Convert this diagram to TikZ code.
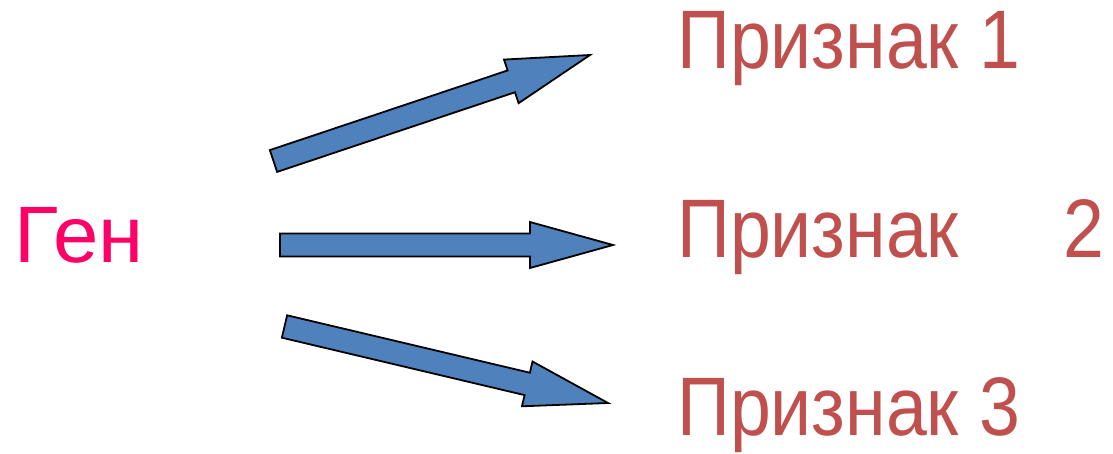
\documentclass[tikz,border=0pt]{standalone}
\usepackage{fontspec}
\setmainfont{Liberation Sans}
\usetikzlibrary{calc}
\definecolor{genred}{HTML}{FF0066}
\definecolor{trait}{HTML}{C0504D}
\definecolor{arrblue}{HTML}{4F81BD}
\tikzset{
  barrow/.style={fill=arrblue, draw=black, line width=1.8pt, line join=miter},
  lbl/.style={inner sep=0pt, anchor=base west, font=\fontsize{80}{96}\selectfont},
  tlbl/.style={inner sep=0pt, anchor=base west, font=\fontsize{83}{100}\selectfont, text=trait},
}
\newcommand{\blockarr}[3]{%
  \coordinate (#3hb) at ($(#2)!83pt!(#1)$);
  \draw[barrow] ($(#1)!11.5pt!90:(#2)$) -- ($(#3hb)!11.5pt!90:(#2)$) -- ($(#3hb)!23pt!90:(#2)$) -- (#2)
    -- ($(#3hb)!23pt!-90:(#2)$) -- ($(#3hb)!11.5pt!-90:(#2)$) -- ($(#1)!11.5pt!-90:(#2)$) -- cycle;}
\newcommand{\trt}[1]{\scalebox{0.885}[1]{#1}}
\begin{document}
\begin{tikzpicture}[x=1pt,y=-1pt]
\useasboundingbox (0,0) rectangle (1113,453);
\node[lbl, text=genred] (gen) at (14,262) {\scalebox{1.02}[1]{Ген}};
\node[tlbl] (p1) at (677,68) {\trt{Признак 1}};
\node[tlbl] (p2) at (677,257) {\trt{Признак\hspace{118pt}2}};
\node[tlbl] (p3) at (677,435.5) {\trt{Признак 3}};
\coordinate (t1) at (273.5,161);
\coordinate (h1) at (590,55);
\coordinate (t2) at (280,245);
\coordinate (h2) at (613,245);
\coordinate (t3) at (284.5,326.5);
\coordinate (h3) at (608,403);
\blockarr{t1}{h1}{a}
\blockarr{t2}{h2}{b}
\blockarr{t3}{h3}{c}
\end{tikzpicture}
\end{document}
